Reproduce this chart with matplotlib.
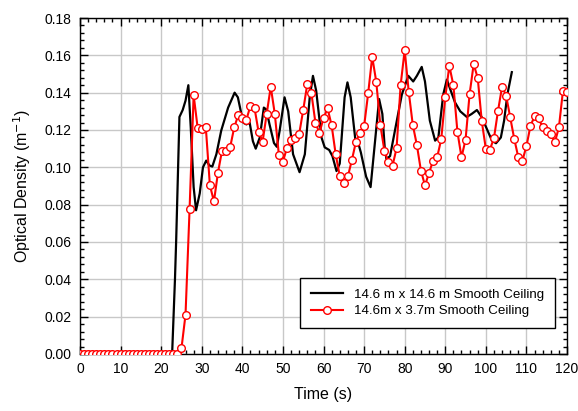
import matplotlib
matplotlib.use("Agg")
import matplotlib.pyplot as plt
from matplotlib.ticker import MultipleLocator

plt.rcParams['font.family'] = ['Liberation Sans', 'DejaVu Sans']

# --- data ---
# 14.6 m x 14.6 m smooth ceiling (black line)
t_big = [0, 22.7, 23.4, 23.7, 24.5, 25.3, 26.0, 26.7, 27.3, 28.0, 28.6, 29.5, 30.3, 31.1,
         31.9, 32.6, 33.6, 34.8, 36.5, 38.1, 38.9, 40.2, 41.0, 41.8, 42.6, 43.3, 44.3,
         45.3, 45.9, 46.7, 47.8, 48.5, 49.2, 50.4, 51.3, 52.5, 54.1, 55.4, 56.6, 57.4,
         58.2, 59.5, 60.3, 61.4, 62.2, 63.2, 64.0, 65.2, 65.9, 66.7, 68.0, 68.5, 69.2,
         70.5, 71.6, 72.7, 73.7, 74.5, 75.1, 75.5, 76.4, 77.6, 79.3, 80.9, 82.1, 83.0,
         84.2, 85.0, 86.2, 87.5, 88.3, 89.5, 90.4, 91.2, 92.4, 93.7, 95.3, 96.5, 97.8,
         99.0, 100.6, 101.5, 102.5, 103.7, 104.5, 105.3, 106.4]
od_big = [0, 0, 0.040, 0.061, 0.127, 0.1307, 0.1357, 0.144, 0.121, 0.0894, 0.077, 0.086,
          0.100, 0.1036, 0.101, 0.1004, 0.107, 0.1197, 0.132, 0.140, 0.1375, 0.124, 0.123,
          0.124, 0.114, 0.110, 0.116, 0.132, 0.131, 0.123, 0.113, 0.111, 0.1197, 0.1375,
          0.130, 0.107, 0.0974, 0.107, 0.1375, 0.149, 0.141, 0.116, 0.1107, 0.1093, 0.106,
          0.098, 0.102, 0.1375, 0.1455, 0.1375, 0.1117, 0.1134, 0.108, 0.095, 0.0894,
          0.114, 0.1366, 0.1286, 0.110, 0.1045, 0.106, 0.1197, 0.139, 0.149, 0.146, 0.149,
          0.1538, 0.146, 0.125, 0.1143, 0.116, 0.139, 0.147, 0.142, 0.1348, 0.130, 0.127,
          0.1286, 0.1307, 0.1268, 0.1188, 0.1143, 0.1129, 0.116, 0.125, 0.139, 0.151]

# 14.6m x 3.7m smooth ceiling (red line, 1 s samples)
t_small = list(range(0, 121))
od_small = [0] * 25 + [
    0.003, 0.021, 0.0775, 0.1387, 0.121, 0.1205, 0.1215, 0.0905, 0.0817, 0.0972,
    0.109, 0.1086, 0.1108, 0.1214, 0.128, 0.1264, 0.1255, 0.133, 0.1318, 0.119,
    0.1138, 0.1286, 0.1432, 0.1286, 0.1067, 0.1031, 0.1104, 0.1147, 0.1156, 0.1178,
    0.1307, 0.1446, 0.140, 0.124, 0.1184, 0.1264, 0.1316, 0.1225, 0.107, 0.0954,
    0.0915, 0.0951, 0.104, 0.1138, 0.1186, 0.122, 0.1396, 0.1592, 0.1458, 0.1227,
    0.109, 0.1027, 0.1008, 0.1102, 0.144, 0.1628, 0.1405, 0.1227, 0.112, 0.0983,
    0.0903, 0.097, 0.1036, 0.1054, 0.115, 0.1375, 0.1544, 0.144, 0.119, 0.1054,
    0.1148, 0.1393, 0.1553, 0.1478, 0.1246, 0.1099, 0.1095, 0.1157, 0.1303, 0.1432,
    0.1384, 0.1268, 0.1152, 0.1054, 0.1036, 0.1113, 0.1223, 0.1273, 0.1262, 0.1214,
    0.1197, 0.1179, 0.1134, 0.1214, 0.141, 0.1405]

label_big = "14.6 m x 14.6 m Smooth Ceiling"
label_small = "14.6m x 3.7m Smooth Ceiling"

fig = plt.figure(figsize=(5.78, 4.11), dpi=100)
ax = fig.add_axes([0.1384, 0.1387, 0.8426, 0.8175])

ax.plot(t_big, od_big, color='black', lw=1.6, label=label_big, zorder=3)
ax.plot(t_small, od_small, color='red', lw=1.5, marker='o', markersize=5.5,
        markerfacecolor='white', markeredgecolor='red', markeredgewidth=1.0,
        label=label_small, zorder=4)

ax.set_xlim(0, 120)
ax.set_ylim(0, 0.18)
ax.xaxis.set_major_locator(MultipleLocator(10))
ax.xaxis.set_minor_locator(MultipleLocator(2))
ax.yaxis.set_major_locator(MultipleLocator(0.02))
ax.yaxis.set_minor_locator(MultipleLocator(0.004))
ax.yaxis.set_major_formatter(matplotlib.ticker.FormatStrFormatter('%.2f'))
ax.tick_params(which='both', direction='in', top=True, right=True, labelsize=10, width=1)
ax.tick_params(which='major', length=6, pad=6)
ax.tick_params(which='minor', length=3)
ax.grid(True, which='major', color='#c8c8c8', lw=1, zorder=0)
ax.set_axisbelow(True)
for s in ax.spines.values():
    s.set_linewidth(1)

ax.set_xlabel("Time (s)", fontsize=11.5, labelpad=8)
ax.set_ylabel("Optical Density (m$^{-1}$)", fontsize=11.5, labelpad=8)

leg = ax.legend(loc='lower right', bbox_to_anchor=(0.988, 0.058), fontsize=9.6,
                frameon=True, fancybox=False, edgecolor='black', framealpha=1,
                borderpad=0.8, handlelength=2.4, labelspacing=0.3)
leg.get_frame().set_linewidth(1)

fig.savefig("out.png", dpi=100)
